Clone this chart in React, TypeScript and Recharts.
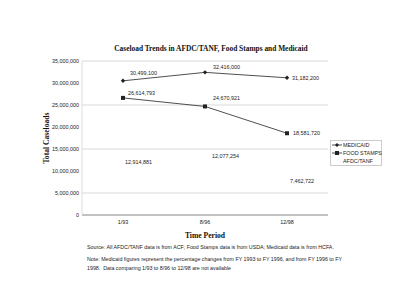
import React from "react";
import { LineChart, Line, XAxis, YAxis, CartesianGrid, LabelList } from "recharts";

const periods = ["1/93", "8/96", "12/98"];
const medicaid = [30499100, 32416000, 31182200];
const foodStamps = [26614793, 24670921, 18581720];
const afdcTanf = [12914881, 12077254, 7462722];
const yTicks = [0, 5000000, 10000000, 15000000, 20000000, 25000000, 30000000, 35000000];

const data = periods.map((period, i) => ({
  period,
  medicaid: medicaid[i],
  food: foodStamps[i],
  afdc: afdcTanf[i],
}));

// label offsets copied from the excel layout (hand placed in the original)
const labelOffsets: Record<string, [number, number][]> = {
  medicaid: [[7, -6], [8, -3], [5, 2]],
  food: [[5, -3], [8, -6], [6, 2]],
  afdc: [[2, 6], [7, -4], [3, 1]],
};

const fmt = (v: number) => v.toLocaleString("en-US");
const sans = "'Liberation Sans', Arial, sans-serif";
const serif = "'Liberation Serif', 'Times New Roman', serif";
const ink = "#222";

const makeLabel = (key: string) => (props: any) => {
  const { x, y, value, index } = props;
  const [dx, dy] = labelOffsets[key][index];
  return (
    <text x={x + dx} y={y + dy} fontSize={5.4} fontFamily={sans} fill={ink}>
      {fmt(value)}
    </text>
  );
};

const Diamond = (props: any) => {
  const { cx, cy } = props;
  return <path d={`M${cx},${cy - 2.2}L${cx + 2.2},${cy}L${cx},${cy + 2.2}L${cx - 2.2},${cy}Z`} fill={ink} />;
};

const Square = (props: any) => {
  const { cx, cy } = props;
  return <rect x={cx - 2} y={cy - 2} width={4} height={4} fill={ink} />;
};

// legend drawn by hand, recharts' Legend would eat into the plot height
const LegendBox = () => (
  <g transform="translate(330,140)">
    <rect x={0.5} y={0.5} width={51} height={25} fill="#fff" stroke="#ccc" />
    <line x1={2} x2={12} y1={5} y2={5} stroke={ink} strokeWidth={0.8} />
    <path d="M7,3 L9,5 L7,7 L5,5Z" fill={ink} />
    <text x={13} y={7} fontSize={5.4} fontFamily={sans} fill={ink}>MEDICAID</text>
    <line x1={2} x2={12} y1={13} y2={13} stroke={ink} strokeWidth={0.8} />
    <rect x={5} y={11} width={4} height={4} fill={ink} />
    <text x={13} y={15} fontSize={5.4} fontFamily={sans} fill={ink}>FOOD STAMPS</text>
    <text x={13} y={23} fontSize={5.4} fontFamily={sans} fill={ink}>AFDC/TANF</text>
  </g>
);

export default function App() {
  return (
    <div style={{ position: "absolute", left: 0, top: 0, width: 400, height: 306, background: "#fff" }}>
      <LineChart width={400} height={306} data={data} margin={{ top: 61, right: 72, bottom: 61, left: 22 }}>
        <CartesianGrid vertical={false} stroke="#cfcfcf" strokeWidth={0.8} />
        <XAxis
          dataKey="period"
          height={30}
          padding={{ left: 41, right: 41 }}
          tickLine={false}
          tickSize={0}
          axisLine={{ stroke: "#999" }}
          tick={{ fontSize: 5.4, fontFamily: sans, fill: ink }}
          tickMargin={5}
        />
        <YAxis
          width={60}
          domain={[0, 35000000]}
          ticks={yTicks}
          tickFormatter={fmt}
          tickLine={false}
          tickSize={0}
          axisLine={{ stroke: "#ddd" }}
          tick={{ fontSize: 5.4, fontFamily: sans, fill: ink }}
          tickMargin={3}
        />
        <Line dataKey="medicaid" stroke={ink} strokeWidth={0.8} dot={<Diamond />} isAnimationActive={false}>
          <LabelList dataKey="medicaid" content={makeLabel("medicaid")} />
        </Line>
        <Line dataKey="food" stroke={ink} strokeWidth={0.8} dot={<Square />} isAnimationActive={false}>
          <LabelList dataKey="food" content={makeLabel("food")} />
        </Line>
        <Line dataKey="afdc" stroke="none" dot={false} isAnimationActive={false}>
          <LabelList dataKey="afdc" content={makeLabel("afdc")} />
        </Line>
      </LineChart>
      <svg width={400} height={306} style={{ position: "absolute", left: 0, top: 0, pointerEvents: "none" }}>
        <text x={211} y={51} textAnchor="middle" fontSize={7.4} fontWeight="bold" fontFamily={serif} fill="#111">
          Caseload Trends in AFDC/TANF, Food Stamps and Medicaid
        </text>
        <text
          x={49}
          y={138}
          transform="rotate(-90 49 138)"
          textAnchor="middle"
          fontSize={7.6}
          fontWeight="bold"
          fontFamily={serif}
          fill="#111"
        >
          Total Caseloads
        </text>
        <text x={205} y={237.5} textAnchor="middle" fontSize={7.6} fontWeight="bold" fontFamily={serif} fill="#111">
          Time Period
        </text>
        <LegendBox />
        <text x={87} y={249} fontSize={5.3} fontFamily={sans} fill={ink}>
          Source: All AFDC/TANF data is from ACF; Food Stamps data is from USDA; Medicaid data is from HCFA.
        </text>
        <text x={87} y={261} fontSize={5.3} fontFamily={sans} fill={ink}>
          Note: Medicaid figures represent the percentage changes from FY 1993 to FY 1996, and from FY 1996 to FY
        </text>
        <text x={87} y={269.5} fontSize={5.3} fontFamily={sans} fill={ink} style={{ whiteSpace: "pre" }}>
          {"1998.  Data comparing 1/93 to 8/96 to 12/98 are not available"}
        </text>
      </svg>
    </div>
  );
}
